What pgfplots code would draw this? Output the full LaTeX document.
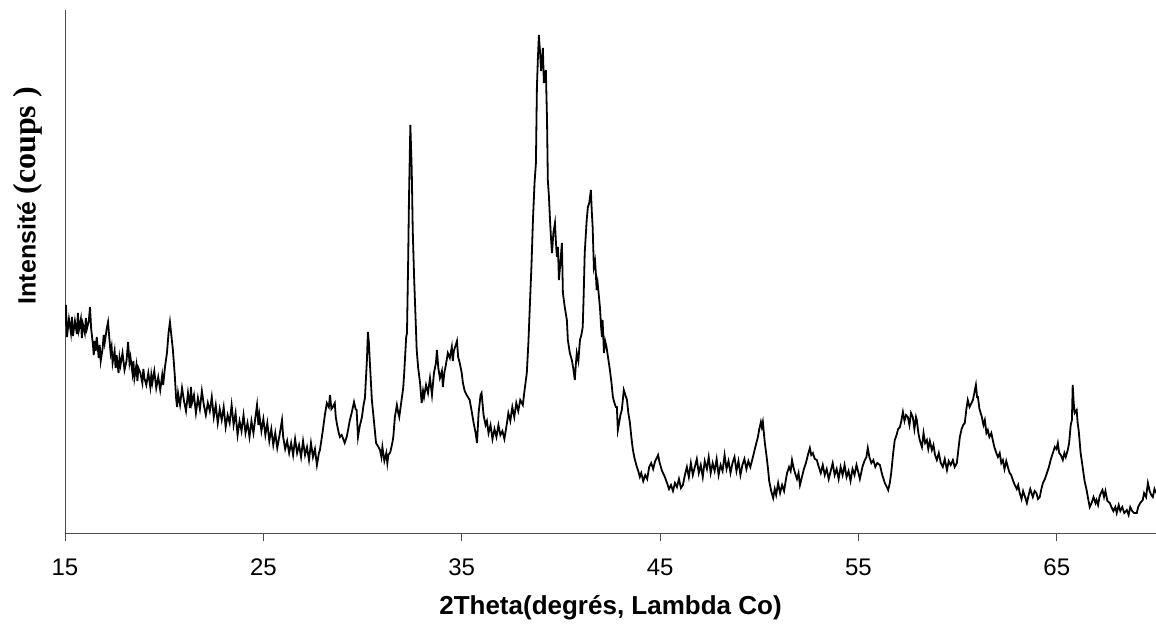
\documentclass[border=0pt]{standalone}
\usepackage{fontspec}
\setmainfont{Liberation Sans}
\newfontfamily\timesfont{Liberation Serif}
\usepackage{pgfplots}
\pgfplotsset{compat=1.18}
\usepackage{pgfplotstable}
\usetikzlibrary{calc}

% diffractogramme, 2theta (deg) / intensite (unites arbitraires)
\pgfplotstableread{
x y
15.0 208
15.05 228
15.1 196
15.2 214
15.3 200
15.35 216
15.4 197
15.5 212
15.6 199
15.65 220
15.7 203
15.8 214
15.85 195
15.9 209
16.0 200
16.05 215
16.1 204
16.2 212
16.26 226
16.32 204
16.4 190
16.45 178
16.5 192
16.55 182
16.6 196
16.7 175
16.75 188
16.8 172
16.9 185
16.95 198
17.0 190
17.1 204
17.17 211
17.23 196
17.3 180
17.35 186
17.4 170
17.5 182
17.55 165
17.6 178
17.7 160
17.75 175
17.8 168
17.9 180
18.0 163
18.1 172
18.18 191
18.25 170
18.3 176
18.4 160
18.45 172
18.5 155
18.6 168
18.65 152
18.7 165
18.8 160
18.9 150
18.95 164
19.0 155
19.1 148
19.2 160
19.3 146
19.35 158
19.4 150
19.5 162
19.6 145
19.7 156
19.8 143
19.9 158
19.95 148
20.04 166
20.14 180
20.22 200
20.29 211
20.36 198
20.44 183
20.54 156
20.6 135
20.65 126
20.7 140
20.8 128
20.9 145
21.0 132
21.1 122
21.2 140
21.3 125
21.35 146
21.4 130
21.5 138
21.6 120
21.7 135
21.8 124
21.9 142
22.0 128
22.1 118
22.2 130
22.3 122
22.4 136
22.5 116
22.6 128
22.7 110
22.8 124
22.9 113
23.0 126
23.1 106
23.2 118
23.3 110
23.4 128
23.5 108
23.6 120
23.7 98
23.8 112
23.9 102
24.0 118
24.1 100
24.2 110
24.3 96
24.4 112
24.5 100
24.6 116
24.68 128
24.75 108
24.8 118
24.9 102
25.0 114
25.1 98
25.2 110
25.3 92
25.4 104
25.5 88
25.6 100
25.7 85
25.8 96
25.94 113
26.0 96
26.1 84
26.2 92
26.3 80
26.4 90
26.5 78
26.6 94
26.7 80
26.8 88
26.9 76
27.0 92
27.1 78
27.2 86
27.3 73
27.4 90
27.5 76
27.6 84
27.7 68
27.8 80
27.85 83
27.92 92
28.0 103
28.1 118
28.2 130
28.3 126
28.36 138
28.43 124
28.5 126
28.6 130
28.65 116
28.7 110
28.8 100
28.86 96
28.95 98
29.1 90
29.2 96
29.27 103
29.35 112
29.45 120
29.57 131
29.65 124
29.7 123
29.77 96
29.85 106
29.97 116
30.05 128
30.12 135
30.22 173
30.27 201
30.32 190
30.37 170
30.47 133
30.57 113
30.68 90
30.8 86
30.88 83
30.95 76
31.0 86
31.1 72
31.2 80
31.25 70
31.3 78
31.4 81
31.5 90
31.55 96
31.63 116
31.73 128
31.8 120
31.85 116
31.92 126
31.98 135
32.05 145
32.1 160
32.2 196
32.24 200
32.3 273
32.34 333
32.41 408
32.48 363
32.53 303
32.6 255
32.64 233
32.73 183
32.8 166
32.9 150
32.98 130
33.05 142
33.1 136
33.2 148
33.3 140
33.4 155
33.5 138
33.6 160
33.7 170
33.75 183
33.82 165
33.9 155
34.0 162
34.05 146
34.12 160
34.2 168
34.3 180
34.4 175
34.5 186
34.55 172
34.6 182
34.7 188
34.76 192
34.82 176
34.9 170
35.0 160
35.06 150
35.15 142
35.25 138
35.4 133
35.5 122
35.6 110
35.7 100
35.77 90
35.85 120
35.95 138
36.0 140
36.1 118
36.2 108
36.27 112
36.35 100
36.45 108
36.55 94
36.65 104
36.75 96
36.85 108
36.95 98
37.05 102
37.15 94
37.28 110
37.35 120
37.45 112
37.55 126
37.65 116
37.75 130
37.85 122
37.95 133
38.08 128
38.15 140
38.28 160
38.36 190
38.44 230
38.52 270
38.59 313
38.67 350
38.74 370
38.79 446
38.84 475
38.89 498
38.95 480
39.0 462
39.04 470
39.09 485
39.14 450
39.2 458
39.24 463
39.3 413
39.34 353
39.4 335
39.45 313
39.5 295
39.55 280
39.62 300
39.7 310
39.75 290
39.8 276
39.85 286
39.9 253
39.97 270
40.05 290
40.1 240
40.2 225
40.3 213
40.35 193
40.45 180
40.55 173
40.62 165
40.7 153
40.75 168
40.8 180
40.88 172
40.96 193
41.03 198
41.1 206
41.15 240
41.2 280
41.3 313
41.36 326
41.43 330
41.51 343
41.56 320
41.6 306
41.66 266
41.72 272
41.76 260
41.8 243
41.85 250
41.9 240
41.97 225
42.03 205
42.07 196
42.1 213
42.17 180
42.23 192
42.3 186
42.38 175
42.47 163
42.55 150
42.62 136
42.7 130
42.77 126
42.82 126
42.87 103
42.95 112
43.0 118
43.07 123
43.17 143
43.25 138
43.33 133
43.4 120
43.48 110
43.55 96
43.63 83
43.72 74
43.83 66
43.9 62
43.98 56
44.05 60
44.15 52
44.25 58
44.35 54
44.45 66
44.55 70
44.65 64
44.75 72
44.9 78
44.98 70
45.1 62
45.24 56
45.35 50
45.45 44
45.55 48
45.65 42
45.75 50
45.85 46
45.95 54
46.05 45
46.15 48
46.25 58
46.35 66
46.45 56
46.55 70
46.65 58
46.75 66
46.85 74
46.95 60
47.05 68
47.15 56
47.25 72
47.36 64
47.45 76
47.55 60
47.65 70
47.75 62
47.85 74
47.95 58
48.05 68
48.15 62
48.25 78
48.35 64
48.45 72
48.55 60
48.65 70
48.75 76
48.85 62
48.95 72
49.05 58
49.15 68
49.25 74
49.35 64
49.45 72
49.55 66
49.68 76
49.8 86
49.93 96
50.0 104
50.08 111
50.13 106
50.18 111
50.28 90
50.36 78
50.43 66
50.5 52
50.6 42
50.7 35
50.78 44
50.85 38
50.95 50
51.05 40
51.15 48
51.25 42
51.33 52
51.4 60
51.5 66
51.58 62
51.65 73
51.72 66
51.8 60
51.9 54
51.98 60
52.05 48
52.15 56
52.25 64
52.35 70
52.45 78
52.55 85
52.62 78
52.7 80
52.8 74
52.9 73
53.0 66
53.1 60
53.2 68
53.3 58
53.4 64
53.5 54
53.6 62
53.7 70
53.8 58
53.9 64
54.0 54
54.1 66
54.2 58
54.3 68
54.4 56
54.5 62
54.6 52
54.7 64
54.8 58
54.9 68
55.0 60
55.07 54
55.2 66
55.3 72
55.4 76
55.47 85
55.55 76
55.65 70
55.75 73
55.85 66
55.95 70
56.08 68
56.2 58
56.33 50
56.43 46
56.5 43
56.58 50
56.65 60
56.75 80
56.83 93
56.92 98
57.0 104
57.09 106
57.16 112
57.24 121
57.32 112
57.4 118
57.49 116
57.57 108
57.65 120
57.74 116
57.82 104
57.9 116
57.94 113
58.02 100
58.1 92
58.2 86
58.28 100
58.36 90
58.45 93
58.52 84
58.6 92
58.7 83
58.78 88
58.86 78
58.95 73
59.05 80
59.15 70
59.25 66
59.35 74
59.46 63
59.55 72
59.65 68
59.76 73
59.85 66
59.96 70
60.04 84
60.11 96
60.2 104
60.28 108
60.36 110
60.44 124
60.51 133
60.6 126
60.7 130
60.77 133
60.84 140
60.92 148
60.98 136
61.02 136
61.1 124
61.22 116
61.3 108
61.37 113
61.45 100
61.52 103
61.6 96
61.7 100
61.77 93
61.85 86
61.95 80
62.03 76
62.12 80
62.2 70
62.28 73
62.36 64
62.45 72
62.53 66
62.62 60
62.7 58
62.78 53
62.88 48
62.98 44
63.05 48
63.13 40
63.22 34
63.3 42
63.4 36
63.49 30
63.58 38
63.66 44
63.79 36
63.88 42
63.97 40
64.05 34
64.14 36
64.22 44
64.3 50
64.4 54
64.5 60
64.6 66
64.7 74
64.8 80
64.9 86
64.98 84
65.05 90
65.12 80
65.2 78
65.3 73
65.38 80
65.45 76
65.55 83
65.62 90
65.7 108
65.76 113
65.8 148
65.85 130
65.9 120
66.0 123
66.05 110
66.1 103
66.2 80
66.3 66
66.4 52
66.5 43
66.58 34
66.66 26
66.75 30
66.85 36
66.95 30
67.0 33
67.08 28
67.15 36
67.22 40
67.3 43
67.38 36
67.45 42
67.55 32
67.67 30
67.75 26
67.85 22
67.95 26
68.02 20
68.12 28
68.2 22
68.3 26
68.4 20
68.53 23
68.62 18
68.7 26
68.8 22
68.9 20
69.03 20
69.1 26
69.2 30
69.33 33
69.4 40
69.5 36
69.59 50
69.68 42
69.76 38
69.84 36
69.92 44
70.0 40
}\xrd

\begin{document}
\begin{tikzpicture}
\begin{axis}[
    name=ax,
    scale only axis,
    width=545.5pt,
    height=261.5pt,
    xmin=15, xmax=70,
    ymin=0, ymax=523,
    axis x line=bottom,
    axis y line=left,
    axis line style={-, gray!60!black, line width=0.5pt},
    xtick={15,25,...,65},
    ytick=\empty,
    tick align=outside,
    major tick length=4pt,
    x tick style={gray!60!black, line width=0.5pt},
    /pgf/number format/assume math mode=true,
    xticklabel style={font=\fontsize{12}{14}\selectfont, yshift=-5.5pt},
    xlabel={2Theta(degrés, Lambda Co)},
    xlabel style={font=\fontsize{13}{15}\selectfont\bfseries,
        at={(axis description cs:0.5,0)}, anchor=center, yshift=-37.5pt},
    ylabel={Intensité {\timesfont\fontsize{16}{18}\selectfont (coups )}},
    every axis y label/.style={font=\fontsize{12.5}{15}\selectfont\bfseries,
        at={(axis description cs:-0.0339,0.645)}, rotate=90, anchor=center},
]
\addplot[black, line width=0.9pt, no markers] table[x=x, y=y] {\xrd};
\end{axis}
\pgfresetboundingbox
\path[use as bounding box] ($(ax.south west)+(-32.5pt,-50.5pt)$) rectangle ($(ax.north east)+(0,5pt)$);
\end{tikzpicture}
\end{document}
